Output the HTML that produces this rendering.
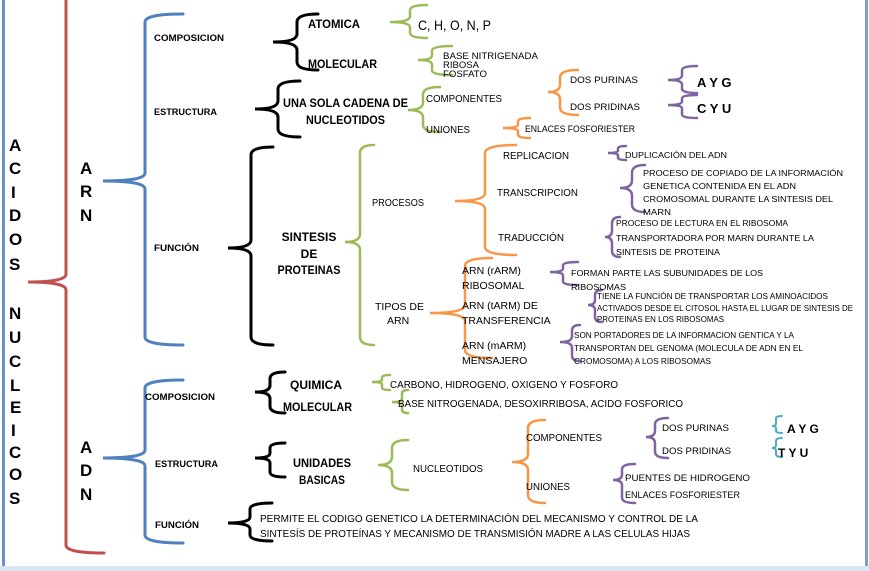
<!DOCTYPE html>
<html><head><meta charset="utf-8"><style>
html,body{margin:0;padding:0;background:#fff}
svg{display:block}
text{font-family:"Liberation Sans",sans-serif;fill:#000}
.b{font-weight:bold}
</style></head><body>
<svg id="s" width="869" height="571" viewBox="0 0 869 571" xmlns="http://www.w3.org/2000/svg">
<rect x="0" y="0" width="869" height="571" fill="#fff"/>
<rect x="2" y="0" width="3" height="566" fill="#6d8fc4"/>
<rect x="865" y="0" width="3" height="566" fill="#8a9bb5"/>
<rect x="0" y="566" width="869" height="5" fill="#dbe6f5"/>
<g id="br" fill="none" stroke-linecap="round"></g>

<g class="b" font-size="17">
<text x="9" y="151">A</text><text x="9" y="174">C</text><text x="11" y="198">I</text><text x="9" y="221">D</text><text x="9" y="245">O</text><text x="9" y="270">S</text>
<text x="9" y="319">N</text><text x="9" y="343">U</text><text x="9" y="367">C</text><text x="10" y="391">L</text><text x="10" y="413">E</text><text x="11" y="436">I</text><text x="9" y="458">C</text><text x="9" y="480">O</text><text x="9" y="504">S</text>
<text x="80" y="174">A</text><text x="80" y="197">R</text><text x="80" y="221">N</text>
<text x="80" y="453">A</text><text x="80" y="476">D</text><text x="80" y="500">N</text>
</g>

<g class="b" font-size="9">
<text x="154" y="41" textLength="70" lengthAdjust="spacingAndGlyphs">COMPOSICION</text>
<text x="154" y="115" textLength="63" lengthAdjust="spacingAndGlyphs">ESTRUCTURA</text>
<text x="154" y="251" textLength="45" lengthAdjust="spacingAndGlyphs">FUNCIÓN</text>
<text x="145" y="400" textLength="70" lengthAdjust="spacingAndGlyphs">COMPOSICION</text>
<text x="155" y="467" textLength="63" lengthAdjust="spacingAndGlyphs">ESTRUCTURA</text>
<text x="155" y="528" textLength="44" lengthAdjust="spacingAndGlyphs">FUNCIÓN</text>
</g>

<g class="b" font-size="12">
<text x="308" y="28" textLength="52" lengthAdjust="spacingAndGlyphs">ATOMICA</text>
<text x="308" y="68" textLength="69" lengthAdjust="spacingAndGlyphs">MOLECULAR</text>
<text x="283" y="107" textLength="125" lengthAdjust="spacingAndGlyphs">UNA SOLA CADENA DE</text>
<text x="306" y="124" textLength="79" lengthAdjust="spacingAndGlyphs">NUCLEOTIDOS</text>
<text x="309" y="241" text-anchor="middle">SINTESIS</text>
<text x="309" y="258" text-anchor="middle">DE</text>
<text x="309" y="274" text-anchor="middle" textLength="63" lengthAdjust="spacingAndGlyphs">PROTEINAS</text>
<text x="290" y="389" textLength="52" lengthAdjust="spacingAndGlyphs">QUIMICA</text>
<text x="283" y="411" textLength="69" lengthAdjust="spacingAndGlyphs">MOLECULAR</text>
<text x="322" y="467" text-anchor="middle" textLength="58" lengthAdjust="spacingAndGlyphs">UNIDADES</text>
<text x="322" y="484" text-anchor="middle" textLength="46" lengthAdjust="spacingAndGlyphs">BASICAS</text>
</g>

<g font-size="10.5">
<text x="372" y="206" textLength="52" lengthAdjust="spacingAndGlyphs">PROCESOS</text>
<text x="426" y="102" textLength="76" lengthAdjust="spacingAndGlyphs">COMPONENTES</text>
<text x="426" y="133" textLength="44" lengthAdjust="spacingAndGlyphs">UNIONES</text>
<text x="503" y="159" textLength="66" lengthAdjust="spacingAndGlyphs">REPLICACION</text>
<text x="497" y="196" textLength="81" lengthAdjust="spacingAndGlyphs">TRANSCRIPCION</text>
<text x="498" y="241" textLength="66" lengthAdjust="spacingAndGlyphs">TRADUCCIÓN</text>
<text x="375" y="310">TIPOS DE</text>
<text x="387" y="324">ARN</text>
<text x="462" y="274">ARN (rARM)</text>
<text x="462" y="289">RIBOSOMAL</text>
<text x="462" y="309">ARN (tARM)  DE</text>
<text x="462" y="324">TRANSFERENCIA</text>
<text x="462" y="349">ARN (mARM)</text>
<text x="462" y="364">MENSAJERO</text>
<text x="390" y="388" textLength="228" lengthAdjust="spacingAndGlyphs">CARBONO, HIDROGENO, OXIGENO Y FOSFORO</text>
<text x="398" y="407" textLength="285" lengthAdjust="spacingAndGlyphs">BASE NITROGENADA,  DESOXIRRIBOSA, ACIDO FOSFORICO</text>
<text x="413" y="472" textLength="70" lengthAdjust="spacingAndGlyphs">NUCLEOTIDOS</text>
<text x="526" y="441" textLength="76" lengthAdjust="spacingAndGlyphs">COMPONENTES</text>
<text x="526" y="490" textLength="44" lengthAdjust="spacingAndGlyphs">UNIONES</text>
<text x="260" y="522" textLength="438" lengthAdjust="spacingAndGlyphs">PERMITE EL CODIGO GENETICO  LA DETERMINACIÓN  DEL MECANISMO  Y CONTROL DE LA</text>
<text x="260" y="537" textLength="430" lengthAdjust="spacingAndGlyphs">SINTESÍS DE PROTEÍNAS Y MECANISMO  DE TRANSMISIÓN  MADRE A LAS CELULAS HIJAS</text>
</g>
<g font-size="9">
<text x="662" y="431" textLength="67" lengthAdjust="spacingAndGlyphs">DOS PURINAS</text>
<text x="662" y="454" textLength="69" lengthAdjust="spacingAndGlyphs">DOS PRIDINAS</text>
<text x="625" y="481" textLength="125" lengthAdjust="spacingAndGlyphs">PUENTES DE HIDROGENO</text>
<text x="625" y="498" textLength="115" lengthAdjust="spacingAndGlyphs">ENLACES FOSFORIESTER</text>
<text x="570" y="83" textLength="68" lengthAdjust="spacingAndGlyphs">DOS PURINAS</text>
<text x="570" y="110" textLength="70" lengthAdjust="spacingAndGlyphs">DOS PRIDINAS</text>
<text x="525" y="132" textLength="110" lengthAdjust="spacingAndGlyphs">ENLACES FOSFORIESTER</text>
<text x="443" y="59" textLength="95" lengthAdjust="spacingAndGlyphs">BASE NITRIGENADA</text>
<text x="443" y="68" textLength="36" lengthAdjust="spacingAndGlyphs">RIBOSA</text>
<text x="443" y="77" textLength="44" lengthAdjust="spacingAndGlyphs">FOSFATO</text>
</g>
<text x="418" y="30" font-size="14" textLength="73" lengthAdjust="spacingAndGlyphs">C, H, O, N, P</text>
<g class="b" font-size="13">
<text x="697" y="87">A Y G</text><text x="697" y="113">C Y U</text>
<text x="787" y="433" font-size="12">A Y G</text><text x="778" y="457" font-size="12">T Y U</text>
</g>
<g font-size="8">
<text x="625" y="158" textLength="102" lengthAdjust="spacingAndGlyphs">DUPLICACIÓN DEL ADN</text>
<text x="643" y="176" textLength="200" lengthAdjust="spacingAndGlyphs">PROCESO DE COPIADO DE LA INFORMACIÓN</text>
<text x="643" y="189" textLength="153" lengthAdjust="spacingAndGlyphs">GENETICA CONTENIDA EN EL ADN</text>
<text x="643" y="202" textLength="190" lengthAdjust="spacingAndGlyphs">CROMOSOMAL DURANTE LA SINTESIS DEL</text>
<text x="643" y="215" textLength="28" lengthAdjust="spacingAndGlyphs">MARN</text>
<text x="616" y="226" textLength="172" lengthAdjust="spacingAndGlyphs">PROCESO DE LECTURA EN EL RIBOSOMA</text>
<text x="616" y="241" textLength="198" lengthAdjust="spacingAndGlyphs">TRANSPORTADORA POR MARN DURANTE  LA</text>
<text x="616" y="255" textLength="104" lengthAdjust="spacingAndGlyphs">SINTESIS DE PROTEINA</text>
<text x="571" y="276" textLength="192" lengthAdjust="spacingAndGlyphs">FORMAN PARTE LAS SUBUNIDADES DE LOS</text>
<text x="571" y="290" textLength="55" lengthAdjust="spacingAndGlyphs">RIBOSOMAS</text>
<text x="597" y="299" textLength="231" lengthAdjust="spacingAndGlyphs">TIENE LA FUNCIÓN DE TRANSPORTAR LOS AMINOACIDOS</text>
<text x="597" y="311" textLength="256" lengthAdjust="spacingAndGlyphs">ACTIVADOS DESDE EL CITOSOL HASTA EL LUGAR DE SINTESIS DE</text>
<text x="597" y="322" textLength="127" lengthAdjust="spacingAndGlyphs">PROTEINAS EN LOS RIBOSOMAS</text>
<text x="574" y="338" textLength="220" lengthAdjust="spacingAndGlyphs">SON PORTADORES DE LA INFORMACION GENTICA Y LA</text>
<text x="574" y="351" textLength="229" lengthAdjust="spacingAndGlyphs">TRANSPORTAN DEL GENOMA (MOLECULA DE ADN EN EL</text>
<text x="574" y="364" textLength="137" lengthAdjust="spacingAndGlyphs">CROMOSOMA) A LOS RIBOSOMAS</text>
</g>
</svg>
<script>
var B=[
// spine x, tip x, y1, ym, y2, end x, color, width
[66,28,-10,282,553,104,"#c0504d",3],
[145,103,14,181,345,183,"#4f81bd",3],
[145,103,380,458,543,183,"#4f81bd",3],
[297,273,14,42,70,318,"#000",3],
[278,255,81,109,137,300,"#000",3],
[251,228,147,248,345,273,"#000",3],
[410,390,5,22,38,427,"#9bbb59",2.5],
[432,418,46,60,75,452,"#9bbb59",2.5],
[423,408,87,110,132,440,"#9bbb59",2.5],
[360,345,145,242,345,374,"#9bbb59",2.5],
[560,548,70,92,115,578,"#f79646",2.5],
[518,503,118,128,138,530,"#f79646",2.5],
[682,668,66,80,93,697,"#8064a2",2.5],
[682,668,95,105,118,697,"#8064a2",2.5],
[485,455,145,201,255,516,"#f79646",2.5],
[465,430,258,313,358,492,"#f79646",2.5],
[618,608,146,153,160,626,"#8064a2",2.5],
[632,620,165,188,212,645,"#8064a2",2.5],
[612,605,217,237,257,620,"#8064a2",2.5],
[563,550,262,272,285,578,"#8064a2",2.5],
[595,588,290,305,322,602,"#8064a2",2.5],
[572,560,325,342,361,580,"#8064a2",2.5],
[270,255,372,392,413,285,"#000",3],
[382,372,375,382,390,390,"#9bbb59",2.5],
[402,392,390,402,413,408,"#9bbb59",2.5],
[270,255,443,458,477,285,"#000",3],
[392,378,440,465,490,408,"#9bbb59",2.5],
[528,512,420,462,503,545,"#f79646",2.5],
[655,646,418,437,458,668,"#8064a2",2.5],
[622,613,464,480,503,635,"#8064a2",2.5],
[776,772,416,426,433,782,"#4bacc6",2],
[776,772,438,448,457,782,"#4bacc6",2],
[250,228,503,523,541,272,"#000",3]
];
var g=document.getElementById("br"),h="";
B.forEach(function(b){var s=b[0],t=b[1],y1=b[2],m=b[3],y2=b[4],e=b[5];
var r=Math.min(8,(m-y1)/3,(y2-m)/3);
var d="M"+e+","+y1+" Q"+s+","+y1+" "+s+","+(y1+r)+" L"+s+","+(m-r)+" Q"+s+","+m+" "+t+","+m+" Q"+s+","+m+" "+s+","+(m+r)+" L"+s+","+(y2-r)+" Q"+s+","+y2+" "+e+","+y2;
h+='<path d="'+d+'" stroke="'+b[6]+'" stroke-width="'+b[7]+'"/>';});
g.innerHTML=h;
</script>
</body></html>
